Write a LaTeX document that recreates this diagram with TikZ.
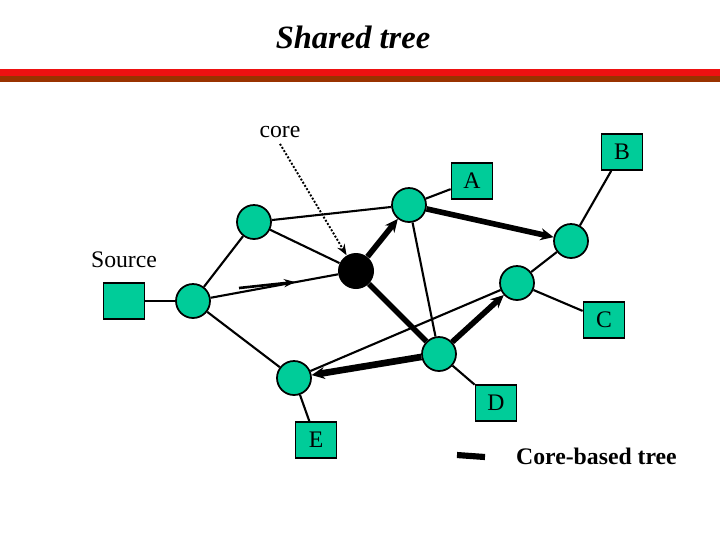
\documentclass[tikz,border=0pt]{standalone}
\usepackage{fontspec}
\setmainfont{Liberation Serif}
\usetikzlibrary{arrows.meta, positioning}
\definecolor{routergreen}{RGB}{0,204,153}
\definecolor{barred}{RGB}{238,17,17}
\definecolor{barbrown}{RGB}{153,51,0}

\begin{document}
\begin{tikzpicture}[x=0.2mm, y=-0.2mm, >=Stealth,
    router/.style={circle, draw=black, fill=routergreen, line width=1pt, minimum size=6.8mm, inner sep=0pt},
    corert/.style={circle, fill=black, minimum size=7.2mm, inner sep=0pt},
    host/.style={draw=black, fill=routergreen, line width=1pt, minimum width=8.2mm, minimum height=7.2mm, inner sep=0pt, font=\fontsize{13.5}{16}\selectfont},
    lbl/.style={font=\fontsize{13.5}{16}\selectfont},
    link/.style={line width=1.2pt},
    tree/.style={line width=3.2pt},
    treearr/.style={tree, -{Stealth[length=2.6mm, width=2.4mm]}}]
  \useasboundingbox (0,0) rectangle (720,540);

  % title and bar
  \node (title) at (353,37) {\fontsize{18.5}{22}\selectfont\bfseries\itshape Shared tree};
  \fill[barred] (0,69) rectangle (720,76);
  \fill[barbrown] (0,76) rectangle (720,82);

  % routers
  \node[router] (r1) at (254,222) {};
  \node[router] (ra) at (409,205) {};
  \node[corert] (core) at (356,271) {};
  \node[router] (rs) at (193,301) {};
  \node[router] (rb) at (571,241) {};
  \node[router] (rc) at (517,283) {};
  \node[router] (rd) at (439,354) {};
  \node[router] (re) at (294,378) {};

  % hosts
  \node[host] (src) at (124,301) {};
  \node[lbl] (srclbl) at (124,260) {Source};
  \node[host] (ha) at (472,181) {A};
  \node[host] (hb) at (622,152) {B};
  \node[host] (hc) at (604,320) {C};
  \node[host] (hd) at (496,403) {D};
  \node[host] (he) at (316,440) {E};
  \node[lbl] (corelbl) at (280,132) {core};

  % plain links
  \draw[link] (r1) -- (ra);
  \draw[link] (r1) -- (core);
  \draw[link] (r1) -- (rs);
  \draw[link] (rs) -- (core);
  \draw[link] (rs) -- (src);
  \draw[link] (rs) -- (re);
  \draw[link] (ra) -- (ha);
  \draw[link] (ra) -- (rd);
  \draw[link] (rb) -- (hb);
  \draw[link] (rb) -- (rc);
  \draw[link] (rc) -- (hc);
  \draw[link] (rc) -- (re);
  \draw[link] (rd) -- (hd);
  \draw[link] (re) -- (he);

  % core-based tree
  \draw[treearr] (core) -- (ra);
  \draw[treearr] (ra) -- (rb);
  \draw[tree] (core) -- (rd);
  \draw[treearr] (rd) -- (rc);
  \draw[treearr, line width=3.8pt] (rd) -- (re);

  % core pointer and data flow
  \draw[densely dotted, line width=1.1pt, -{Stealth[length=2.2mm]}] (corelbl.south) -- (core);
  \coordinate (flowS) at (239,288);
  \coordinate (flowE) at (295,282);
  \draw[line width=1.5pt, -{Stealth[length=2.2mm]}] (flowS) -- (flowE);

  % legend
  \coordinate (legS) at (457,455);
  \coordinate (legE) at (485,457);
  \draw[line width=3.5pt] (legS) -- (legE);
  \node[anchor=west, font=\fontsize{13.5}{16}\selectfont\bfseries] (legtxt) at (510,456) {Core-based tree};
\end{tikzpicture}
\end{document}
